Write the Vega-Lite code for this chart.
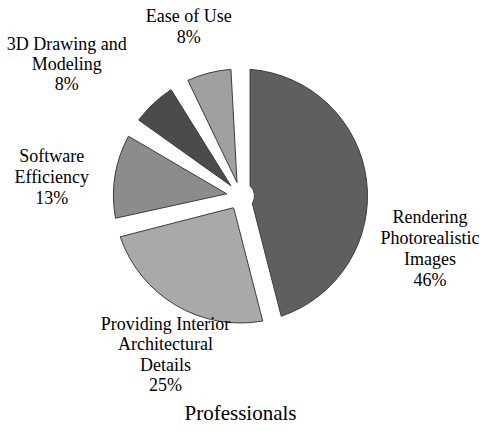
{
  "$schema": "https://vega.github.io/schema/vega-lite/v6.json",
  "width": 481,
  "height": 392,
  "padding": {"left": 0, "right": 0, "top": 0, "bottom": 39},
  "autosize": {"type": "none"},
  "background": "white",
  "config": {"title": {"font": "Liberation Serif, Times New Roman, DejaVu Serif, serif"}, "text": {"font": "Liberation Serif, Times New Roman, DejaVu Serif, serif"}},
  "title": {
    "text": "Professionals",
    "orient": "bottom",
    "font": "Liberation Serif, Times New Roman, DejaVu Serif, serif",
    "fontSize": 21,
    "fontWeight": "normal",
    "color": "#000000",
    "offset": -6
  },
  "data": {
    "values": [
      {"order": 1, "category": "Rendering Photorealistic Images", "label": "Rendering\nPhotorealistic\nImages\n46%", "share": 46},
      {"order": 2, "category": "Providing Interior Architectural Details", "label": "Providing Interior\nArchitectural\nDetails\n25%", "share": 25},
      {"order": 3, "category": "Software Efficiency", "label": "Software\nEfficiency\n13%", "share": 13},
      {"order": 4, "category": "3D Drawing and Modeling", "label": "3D Drawing and\nModeling\n8%", "share": 8},
      {"order": 5, "category": "Ease of Use", "label": "Ease of Use\n8%", "share": 8}
    ]
  },
  "encoding": {
    "theta": {"field": "share", "type": "quantitative", "stack": true},
    "order": {"field": "order", "type": "ordinal"}
  },
  "layer": [
    {
      "mark": {"type": "arc", "outerRadius": 127, "innerRadius": 14, "padAngle": 0.15, "stroke": "#3c3c3c", "strokeWidth": 1},
      "encoding": {
        "color": {
          "field": "category",
          "type": "nominal",
          "sort": null,
          "scale": {
            "domain": ["Rendering Photorealistic Images", "Providing Interior Architectural Details", "Software Efficiency", "3D Drawing and Modeling", "Ease of Use"],
            "range": ["#5f5f5f", "#a9a9a9", "#8c8c8c", "#4b4b4b", "#a0a0a0"]
          },
          "legend": null
        }
      }
    },
    {
      "mark": {"type": "text", "radius": 185, "dx": 6, "dy": 45, "fontSize": 18, "lineBreak": "\n", "lineHeight": 21, "align": "center", "baseline": "middle", "color": "#000000"},
      "encoding": {"text": {"condition": {"test": "datum.order == 1", "field": "label"}, "value": ""}}
    },
    {
      "mark": {"type": "text", "radius": 175, "dx": 14, "dy": -22, "fontSize": 18, "lineBreak": "\n", "lineHeight": 20.5, "align": "center", "baseline": "middle", "color": "#000000"},
      "encoding": {"text": {"condition": {"test": "datum.order == 2", "field": "label"}, "value": ""}}
    },
    {
      "mark": {"type": "text", "radius": 185, "dx": -6, "dy": -10, "fontSize": 18, "lineBreak": "\n", "lineHeight": 21, "align": "center", "baseline": "middle", "color": "#000000"},
      "encoding": {"text": {"condition": {"test": "datum.order == 3", "field": "label"}, "value": ""}}
    },
    {
      "mark": {"type": "text", "radius": 185, "dx": -47, "dy": -16, "fontSize": 18, "lineBreak": "\n", "lineHeight": 20, "align": "center", "baseline": "middle", "color": "#000000"},
      "encoding": {"text": {"condition": {"test": "datum.order == 4", "field": "label"}, "value": ""}}
    },
    {
      "mark": {"type": "text", "radius": 180, "dx": -7, "dy": -5, "fontSize": 18, "lineBreak": "\n", "lineHeight": 21, "align": "center", "baseline": "middle", "color": "#000000"},
      "encoding": {"text": {"condition": {"test": "datum.order == 5", "field": "label"}, "value": ""}}
    }
  ]
}
